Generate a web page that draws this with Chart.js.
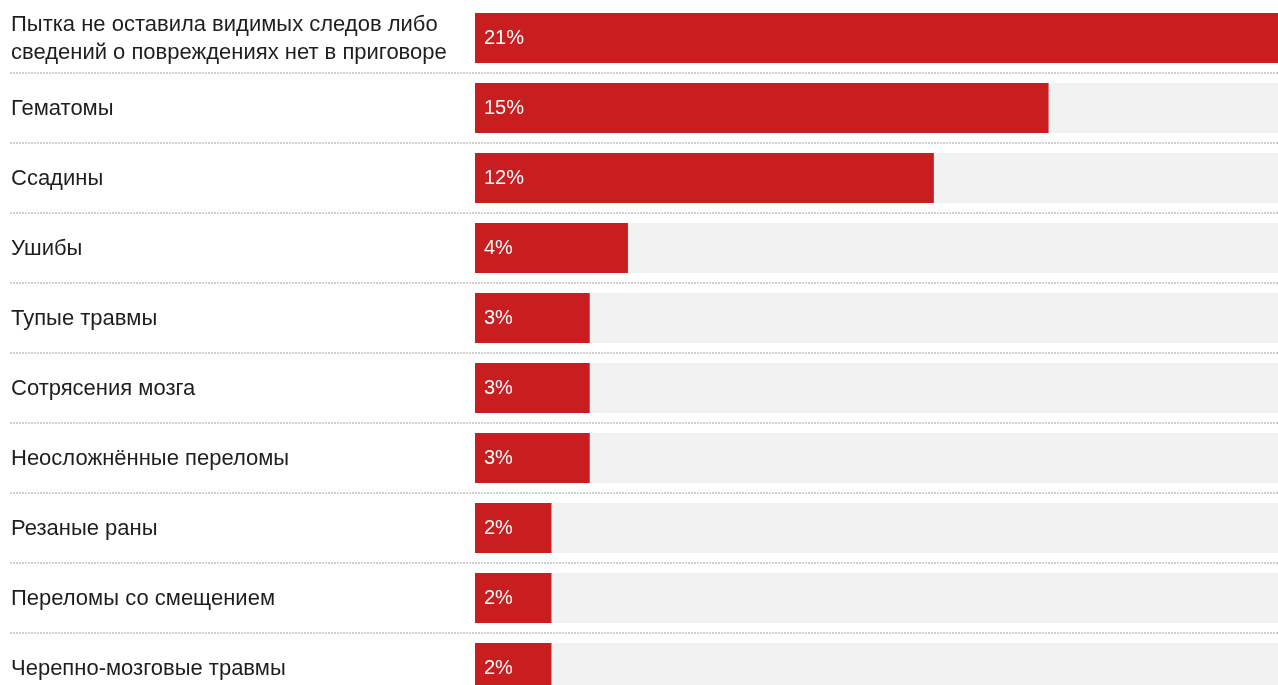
<!DOCTYPE html>
<html lang="ru">
<head>
<meta charset="utf-8">
<title>Повреждения</title>
<script src="https://cdn.jsdelivr.net/npm/chart.js@4/dist/chart.umd.min.js"></script>
<style>
  html, body { margin: 0; padding: 0; background: #fff; overflow: hidden; }
  #wrap { width: 1278px; height: 685px; overflow: hidden; }
</style>
</head>
<body>
<div id="wrap">
  <canvas id="injuriesChart" width="1278" height="705"></canvas>
</div>
<script>
// Categories and shares (%)
var categories = [
    ['Пытка не оставила видимых следов либо', 'сведений о повреждениях нет в приговоре'],
    'Гематомы',
    'Ссадины',
    'Ушибы',
    'Тупые травмы',
    'Сотрясения мозга',
    'Неосложнённые переломы',
    'Резаные раны',
    'Переломы со смещением',
    'Черепно-мозговые травмы'
];
var shares = [21, 15, 12, 4, 3, 3, 3, 2, 2, 2];

var maxShare = Math.max.apply(null, shares);
var track = shares.map(function () { return maxShare; });

var RED = '#c81e1f';
var FONT = '"Liberation Sans", Arial, Helvetica, sans-serif';

// dotted separators between rows
var separators = {
    id: 'separators',
    beforeDatasetsDraw: function (chart) {
        var c = chart.ctx, y = chart.scales.y;
        c.save();
        c.strokeStyle = '#d0d0d0';
        c.lineWidth = 2;
        c.setLineDash([2, 1]);
        for (var i = 0; i < categories.length - 1; i++) {
            var yy = Math.round((y.getPixelForValue(i) + y.getPixelForValue(i + 1)) / 2);
            c.beginPath();
            c.moveTo(10, yy);
            c.lineTo(chart.width, yy);
            c.stroke();
        }
        c.restore();
    }
};

// white percent labels inside the red bars
var valueLabels = {
    id: 'valueLabels',
    afterDatasetsDraw: function (chart) {
        var c = chart.ctx;
        var meta = chart.getDatasetMeta(0);
        c.save();
        c.fillStyle = '#ffffff';
        c.font = '20px ' + FONT;
        c.textAlign = 'left';
        c.textBaseline = 'middle';
        meta.data.forEach(function (bar, i) {
            c.fillText(shares[i] + '%', bar.base + 9, bar.y);
        });
        c.restore();
    }
};

var ctx = document.getElementById('injuriesChart').getContext('2d');
var injuriesChart = new Chart(ctx, {
    type: 'bar',
    data: {
        labels: categories,
        datasets: [{
            data: shares,
            backgroundColor: RED,
            grouped: false,
            barPercentage: 50 / 70,
            categoryPercentage: 1
        }, {
            data: track,
            backgroundColor: '#f2f2f2',
            grouped: false,
            barPercentage: 50 / 70,
            categoryPercentage: 1
        }]
    },
    options: {
        indexAxis: 'y',
        responsive: false,
        animation: false,
        events: [],
        layout: { padding: { left: 11, top: 3, right: 0, bottom: 2 } },
        plugins: {
            legend: { display: false },
            tooltip: { enabled: false }
        },
        scales: {
            x: {
                display: false,
                min: 0,
                max: maxShare
            },
            y: {
                grid: { display: false },
                border: { display: false },
                afterFit: function (scale) {
                    scale.width = 464;
                    scale.paddingTop = 0;
                    scale.paddingBottom = 0;
                },
                ticks: {
                    crossAlign: 'far',
                    labelOffset: 1,
                    color: '#1e1e1e',
                    font: { family: FONT, size: 22, lineHeight: 1.27 }
                }
            }
        }
    },
    plugins: [separators, valueLabels]
});
</script>
</body>
</html>
